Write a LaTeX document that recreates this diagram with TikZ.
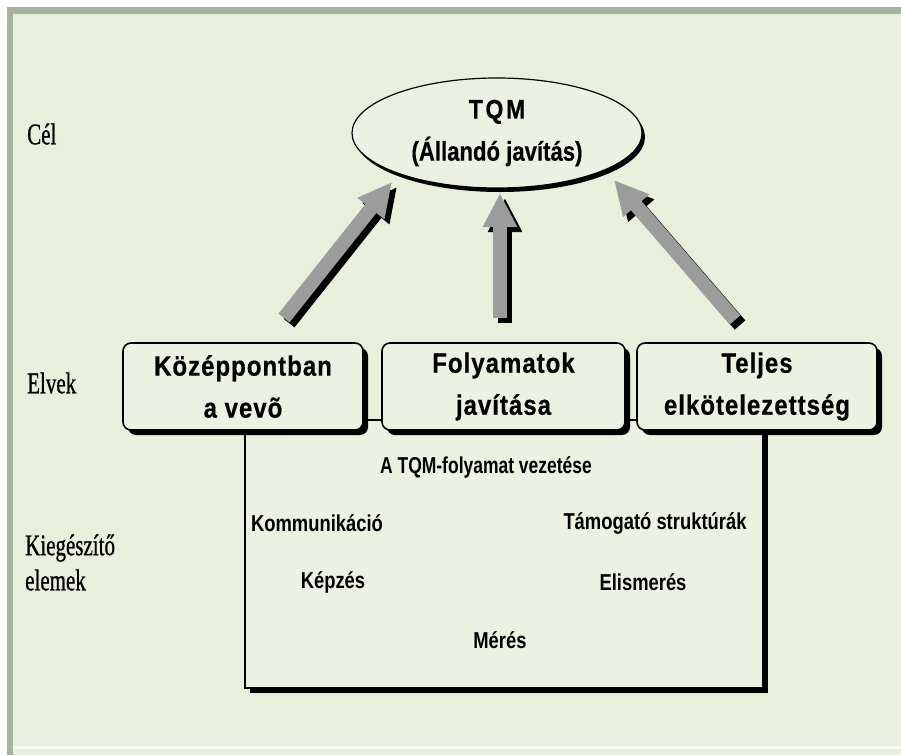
\documentclass[tikz,border=0pt]{standalone}
\usepackage{fontspec}
\setmainfont{Liberation Serif}
\newfontfamily\diagsans{Liberation Sans}
\usetikzlibrary{shapes.geometric,arrows.meta,shadows}

\definecolor{paper}{HTML}{E8F0DC}
\definecolor{panel}{HTML}{ECF2E2}
\definecolor{frameband}{HTML}{A8B0A0}
\definecolor{arrowgray}{HTML}{9C9C9C}

% horizontally condensed text
\newcommand{\narrow}[2][0.8]{\scalebox{#1}[1]{#2}}

\tikzset{
  lefttag/.style={font=\fontsize{30}{34}\selectfont\addfontfeature{FakeBold=1}, inner sep=0pt},
  boxtext/.style={font=\diagsans\bfseries\fontsize{28}{42}\selectfont\addfontfeature{LetterSpace=4,FakeBold=0.6},
                  align=center},
  itemtext/.style={font=\diagsans\bfseries\fontsize{23}{26}\selectfont, inner sep=0pt},
  hardshadow/.style={drop shadow={shadow xshift=5pt, shadow yshift=-5pt, opacity=1, fill=black}},
  principle/.style={draw=black, line width=1.6pt, fill=panel, rounded corners=8pt,
                    minimum width=240pt, minimum height=87pt, hardshadow, boxtext},
  upshaft/.style={line width=14pt, line cap=butt,
                  -{Triangle[width=32pt,length=34pt]}},
}

\begin{document}
\begin{tikzpicture}[x=1pt, y=-1pt]
  % page and frame
  \useasboundingbox (0,0) rectangle (901,755);
  \fill[white] (0,0) rectangle (901,755);
  \fill[paper] (7,7) rectangle (901,755);
  \fill[frameband] (7,7) rectangle (901,14);
  \fill[frameband] (7,7) rectangle (13,755);
  \fill[white!60!paper] (13,746) rectangle (901,749);

  % row labels
  \node[lefttag, anchor=west] (cel) at (27,134) {\narrow[0.7]{Cél}};
  \node[lefttag, anchor=west] (elvek) at (27,383) {\narrow[0.7]{Elvek}};
  \node[lefttag, anchor=west] (kieg) at (25,548) {\narrow[0.7]{Kiegészítő}};
  \node[lefttag, anchor=west] (elemek) at (25,580) {\narrow[0.7]{elemek}};

  % goal
  \node[ellipse, draw=black, line width=1.2pt, fill=panel,
        minimum width=290pt, minimum height=110pt,
        drop shadow={shadow xshift=3pt, shadow yshift=-4pt, opacity=1, fill=black},
        font=\diagsans\bfseries\fontsize{27}{42}\selectfont\addfontfeature{FakeBold=0.6},
        align=center] (tqm) at (497,133)
        {\narrow[0.85]{\addfontfeature{LetterSpace=12}TQM}\\\narrow[0.82]{(Állandó javítás)}};

  % frame of the supporting elements
  \node[draw=black, line width=1.2pt, fill=panel, hardshadow,
        minimum width=518pt, minimum height=268pt] (support) at (504,554) {};

  % principles
  \node[principle] (vevo) at (243,386.5)
        {\narrow[0.86]{Középpontban}\\\narrow[0.86]{a vevõ}};
  \node[principle, minimum width=243pt] (folyamat) at (503.5,386.5)
        {\narrow[0.86]{Folyamatok}\\\narrow[0.86]{javítása}};
  \node[principle] (teljes) at (757,386.5)
        {\narrow[0.86]{Teljes}\\\narrow[0.86]{elkötelezettség}};

  % supporting elements
  \node[itemtext] (vezetes) at (486,467) {\narrow[0.76]{A TQM-folyamat vezetése}};
  \node[itemtext] (komm) at (317,523) {\narrow{Kommunikáció}};
  \node[itemtext] (tamog) at (655,523) {\narrow{Támogató struktúrák}};
  \node[itemtext] (kepzes) at (333,582) {\narrow{Képzés}};
  \node[itemtext] (elism) at (643,582) {\narrow{Elismerés}};
  \node[itemtext] (meres) at (500,640) {\narrow{Mérés}};

  % arrow ends between the principles and the goal
  \coordinate (leftfoot) at (284,318);
  \coordinate (lefthead) at (392,182);
  \coordinate (midfoot) at (500,318);
  \coordinate (midhead) at (500,193);
  \coordinate (rightfoot) at (735,320);
  \coordinate (righthead) at (614,180);

  % arrow shadows
  \foreach \a/\b in {leftfoot/lefthead, midfoot/midhead, rightfoot/righthead}
    \draw[upshaft, black] ([shift={(5,5)}]\a) -- ([shift={(5,5)}]\b);
  % arrows
  \foreach \a/\b in {leftfoot/lefthead, midfoot/midhead, rightfoot/righthead}
    \draw[upshaft, arrowgray] (\a) -- (\b);
\end{tikzpicture}
\end{document}
